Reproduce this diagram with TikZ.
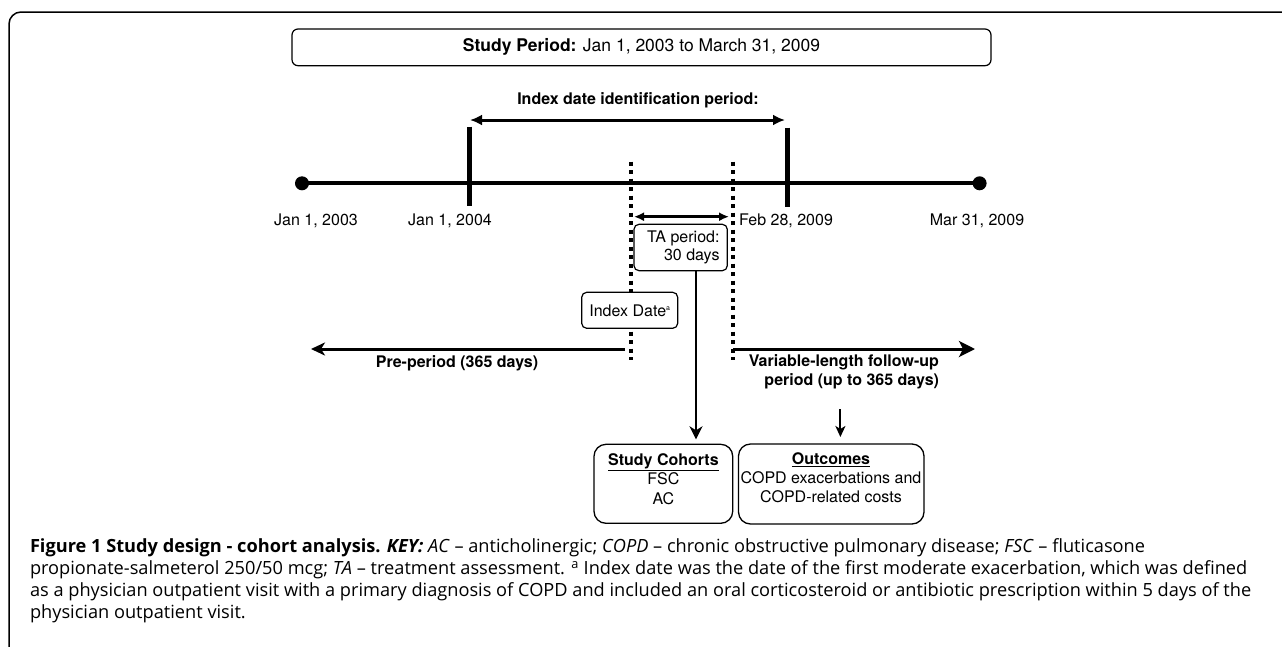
\documentclass[tikz,border=0pt]{standalone}
\usepackage{fontspec}
\setmainfont{TeX Gyre Heros}
\newfontfamily\capfont{Open Sans}
\usetikzlibrary{arrows.meta}
\begin{document}
\begin{tikzpicture}[x=1pt,y=-1pt,
  every node/.style={inner sep=0pt, outer sep=0pt},
  lbl/.style={font=\fontsize{16}{18.4}\selectfont},
  blbl/.style={font=\fontsize{16}{19.4}\selectfont\bfseries},
  rbox/.style={draw, line width=1.2pt, rounded corners=5pt, fill=white},
  bigbox/.style={draw, line width=1.3pt, rounded corners=12pt},
  dotline/.style={line width=3.7pt, dash pattern=on 4pt off 4.5pt},
  thickbar/.style={line width=4.3pt},
  dblarrow/.style={line width=3pt, {Latex[length=12pt,width=11pt]}-{Latex[length=12pt,width=11pt]}},
  enddot/.style={circle, fill, minimum size=14pt},
  captxt/.style={font=\capfont\fontsize{18.2}{21.8}\selectfont, align=left, anchor=north west}
]
\useasboundingbox (0,0) rectangle (1282,646);

% outer frame
\draw[line width=1.5pt, rounded corners=12pt] (9,660) -- (9,12) -- (1290,12);

% study period box
\node[rbox, rounded corners=6pt, minimum width=699pt, minimum height=36.7pt,
      font=\fontsize{17.5}{20}\selectfont] (sp) at (641.5,47.35)
      {\textbf{Study Period:} Jan 1, 2003 to March 31, 2009};

% index date identification period
\node[blbl] (idt) at (638,100) {Index date identification period:};
\coordinate (ia0) at (470,120);
\coordinate (ia1) at (785,120);
\draw[dblarrow] (ia0) -- (ia1);

% main axis
\node[enddot] (d0) at (302,183.3) {};
\node[enddot] (d1) at (979.6,183.3) {};
\draw[line width=4pt] (d0.center) -- (d1.center);

% vertical bars
\coordinate (b1t) at (469.5,126.7);
\coordinate (b1b) at (469.5,205.7);
\coordinate (b2t) at (787.5,127.7);
\coordinate (b2b) at (787.5,206.7);
\draw[thickbar] (b1t) -- (b1b);
\draw[thickbar] (b2t) -- (b2b);

% axis labels
\node[lbl] (l0) at (316,221) {Jan 1, 2003};
\node[lbl] (l1) at (450,221) {Jan 1, 2004};
\node[lbl, anchor=west] (l2) at (739,221) {Feb 28, 2009};
\node[lbl] (l3) at (977,221) {Mar 31, 2009};

% dotted lines
\coordinate (v1t) at (631,161.7);
\coordinate (v1b) at (631,360);
\coordinate (v2t) at (733,161.7);
\coordinate (v2b) at (733,360);
\draw[dotline] (v1t) -- (v1b);
\draw[dotline] (v2t) -- (v2b);

% TA arrow and box
\coordinate (ta0) at (634,216.7);
\coordinate (ta1) at (729,216.7);
\draw[line width=3pt, {Latex[length=10pt,width=9pt]}-{Latex[length=10pt,width=9pt]}] (ta0) -- (ta1);
\node[rbox, minimum width=93.3pt, minimum height=46.4pt] (ta) at (680.65,247.5) {};
\node[lbl, anchor=east, align=right] (tat) at (719.5,247.5) {TA period:\\30 days};

% Index date box
\node[rbox, minimum width=96pt, minimum height=36pt, lbl] (idx) at (629.7,310.3)
  {\raisebox{-1.5pt}{Index Date\raisebox{6pt}{\fontsize{7}{7}\selectfont a}}};

% pre-period
\coordinate (pp0) at (624.5,349);
\coordinate (pp1) at (311,349);
\draw[line width=3pt, -{Stealth[length=14pt,width=13pt,inset=4pt]}] (pp0) -- (pp1);
\node[blbl] (ppl) at (457,363.3) {Pre-period (365 days)};

% follow-up
\coordinate (fu0) at (733,349);
\coordinate (fu1) at (975,349);
\draw[line width=3pt, -{Stealth[length=16pt,width=16pt,inset=4pt]}] (fu0) -- (fu1);
\node[blbl, anchor=east, align=right] (ful) at (939,372) {Variable-length follow-up\\period (up to 365 days)};

% result boxes
\node[bigbox, minimum width=138.7pt, minimum height=79pt] (sc) at (663.35,483.8) {};
\node[lbl, align=center, font=\fontsize{16}{19.5}\selectfont] (sct) at (663.4,479)
  {\underline{\textbf{Study Cohorts}}\\FSC\\AC};
\node[bigbox, minimum width=185.5pt, minimum height=80pt] (oc) at (831.25,484) {};
\node[lbl, align=center, font=\fontsize{16}{19}\selectfont] (oct) at (831,478)
  {\underline{\textbf{Outcomes}}\\COPD exacerbations and\\COPD-related costs};

% connectors to boxes
\coordinate (tabot) at (696,270.7);
\draw[line width=2.8pt, -{Stealth[length=13pt,width=13pt,inset=4pt]}, shorten >=5pt] (tabot) -- (tabot |- sc.north);
\coordinate (sm0) at (840.4,409);
\draw[line width=2pt, -{Stealth[length=11pt,width=10pt,inset=3pt]}, shorten >=7pt] (sm0) -- (sm0 |- oc.north);

% caption
\node[captxt] (cap) at (30,539) {%
\textbf{Figure 1 Study design - cohort analysis.} \textbf{\textit{KEY:}} \textit{AC} – anticholinergic; \textit{COPD} – chronic obstructive pulmonary disease; \textit{FSC} – fluticasone\\
propionate-salmeterol 250/50 mcg; \textit{TA} – treatment assessment. \textsuperscript{a} Index date was the date of the first moderate exacerbation, which was defined\\
as a physician outpatient visit with a primary diagnosis of COPD and included an oral corticosteroid or antibiotic prescription within 5 days of the\\
physician outpatient visit.};
\end{tikzpicture}
\end{document}
